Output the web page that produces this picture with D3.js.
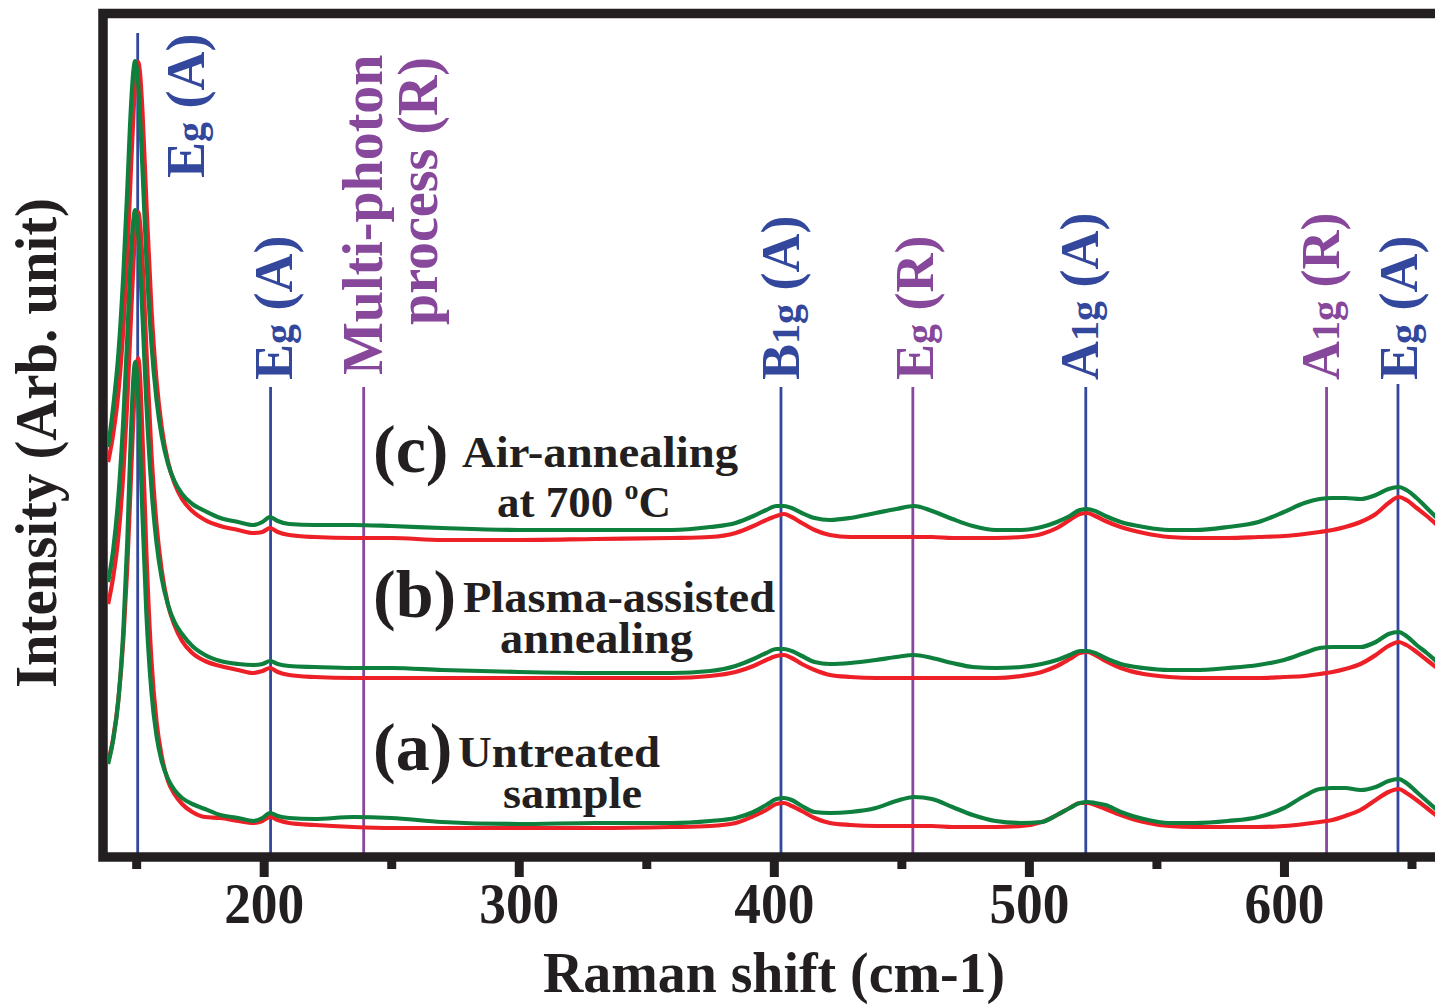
<!DOCTYPE html>
<html>
<head>
<meta charset="utf-8">
<script src="https://cdn.jsdelivr.net/npm/d3@7"></script>
<style>
  body { margin: 0; background: #fff; }
  svg { display: block; font-family: "Liberation Serif", "Times New Roman", serif; font-weight: bold; }
</style>
</head>
<body>
<div id="chart"></div>
<script>
// Raman shift grid (cm-1), shared by every spectrum
var shift = [139,141,143,145,146.5,148,149,149.6,150.2,150.8,151.5,152.5,154,156,158,160,162.5,165,168,172,
  177,183,190,196,199.5,202.5,205.5,210,220,235,250,270,300,330,360,375,385,392,397,401,
  404,407,411,416,422,430,440,448,455,462,470,478,487,497,505,511,516,520,523,526,
  530,536,545,555,565,578,590,600,608,614,619,624,630,636,641,645,648,652,656,660];

// intensities (arb. unit, already stacked)
var aRed = [95,119,157,219,289,382,444,475,493,499,481,419,305,196,135,101,76,63,53,45,
  40,39,36,34,36,40,37,34,32,30,29,29,29,29,30,31,34,41,47,53,
  54,51,46,39,34,32,31,31,31,31,30,30,30,31,35,42,49,54,54,52,
  48,42,35,31,30,30,30,31,33,35,37,41,47,57,65,68,64,57,49,41];
var aGreen = [93,117,156,228,314,427,482,495,486,459,413,340,244,165,121,96,78,67,59,53,
  48,42,39,36,39,44,41,39,38,40,39,35,33,34,34,36,39,45,52,58,
  59,57,51,45,44,45,49,56,60,58,50,42,36,34,35,42,49,54,55,54,
  52,45,38,34,34,36,40,49,61,68,69,69,67,70,76,78,74,65,56,47];
var bRed = [253,280,320,385,455,542,597,624,640,645,634,595,508,403,332,287,252,232,216,204,
  196,191,187,184,186,189,185,182,180,179,179,179,179,179,179,181,185,191,197,201,
  202,199,193,187,182,180,179,179,179,179,179,179,179,181,185,191,198,204,205,202,
  196,189,183,180,179,179,179,180,181,183,185,188,193,202,211,215,212,205,197,189];
var bGreen = [275,307,359,439,519,604,639,647,642,625,594,540,454,369,314,279,252,235,223,211,
  202,196,193,192,193,196,193,191,190,189,189,187,185,184,184,186,191,198,204,208,
  208,206,201,195,193,194,197,200,202,199,194,190,189,190,193,197,202,206,206,204,
  199,193,189,187,187,189,192,197,204,209,210,210,210,215,223,225,221,212,204,195];
var cRed = [395,423,464,530,601,691,746,774,790,795,784,744,655,548,476,430,395,374,358,346,
  337,331,327,324,325,329,325,322,320,319,319,317,317,318,319,320,324,331,337,341,
  343,340,334,327,322,320,320,320,320,320,319,319,319,320,323,329,337,343,344,341,
  336,330,324,320,319,319,320,321,323,325,327,330,335,343,354,360,357,349,341,332];
var cGreen = [410,450,502,584,666,752,788,796,790,774,742,687,599,513,457,421,393,376,363,353,
  346,339,335,332,335,340,336,333,332,332,331,329,327,327,327,330,334,341,347,351,
  351,349,344,339,337,339,344,348,351,346,338,331,327,327,330,335,341,347,348,346,
  341,335,330,327,327,330,335,345,354,358,359,359,358,362,368,370,367,359,349,339];

var majorTicks = [200, 300, 400, 500, 600];
var minorTicks = [150, 250, 350, 450, 550, 650];

// phonon modes (A = anatase, R = rutile)
var modeShift = [150.6, 202.7, 402.8, 454.5, 522.3, 616.7, 644.7];
var modeSymbol = ['E', 'E', 'B', 'E', 'A', 'A', 'E'];
var modeSub = ['g', 'g', '1g', 'g', '1g', '1g', 'g'];
var modePhase = ['A', 'A', 'A', 'R', 'A', 'R', 'A'];
var multiShift = 239.2;
var multiLines = ['Multi-photon', 'process (R)'];

var sampleTags = ['(a)', '(b)', '(c)'];
var sampleNames = [['Untreated', 'sample'], ['Plasma-assisted', 'annealing'], ['Air-annealing', 'at 700 \u00b0C']];

var width = 1435, height = 1006;
var ink = '#231f20';
var phaseColor = { A: '#33489c', R: '#87489c' };
var redColor = '#ee2027', greenColor = '#0e7f3d';

var svg = d3.select('#chart').append('svg')
  .attr('width', width)
  .attr('height', height);

var x = d3.scaleLinear().domain([137, 660]).range([103, 1437]);
var y = d3.scaleLinear().domain([0, 843]).range([857, 14]);

svg.append('clipPath').attr('id', 'plot-clip')
  .append('rect').attr('x', 108).attr('y', 18).attr('width', 1340).attr('height', 834);

// mode marker lines
var lineTop = [33, 387, 387, 387, 387, 387, 384];
svg.selectAll('line.mode')
  .data(modeShift)
  .enter()
  .append('line')
  .attr('class', 'mode')
  .attr('x1', function(d){ return x(d); })
  .attr('x2', function(d){ return x(d); })
  .attr('y1', function(d, i){ return lineTop[i]; })
  .attr('y2', y(0))
  .attr('stroke', function(d, i){ return phaseColor[modePhase[i]]; })
  .attr('stroke-width', 2.8);

svg.append('line')
  .attr('x1', x(multiShift)).attr('x2', x(multiShift))
  .attr('y1', 387).attr('y2', y(0))
  .attr('stroke', phaseColor.R)
  .attr('stroke-width', 2.8);

// spectra
var line = d3.line()
  .x(function(d){ return x(d[0]); })
  .y(function(d){ return y(d[1]); })
  .curve(d3.curveMonotoneX);

var spectra = [
  { values: aRed, color: redColor }, { values: bRed, color: redColor }, { values: cRed, color: redColor },
  { values: aGreen, color: greenColor }, { values: bGreen, color: greenColor }, { values: cGreen, color: greenColor }
];

svg.append('g').attr('clip-path', 'url(#plot-clip)')
  .selectAll('path')
  .data(spectra)
  .enter()
  .append('path')
  .attr('d', function(s){ return line(shift.map(function(v, i){ return [v, s.values[i]]; })); })
  .attr('fill', 'none')
  .attr('stroke', function(s){ return s.color; })
  .attr('stroke-width', 4.2)
  .attr('stroke-linejoin', 'round');

// mode labels
var labelNudge = [66, 21, 18, 20, 12, 12, 19];
var labelStart = [178, 380, 380, 380, 380, 380, 380];
var labels = svg.selectAll('text.mode')
  .data(modeShift)
  .enter()
  .append('text')
  .attr('class', 'mode')
  .attr('transform', function(d, i){
    return 'translate(' + (x(d) + labelNudge[i]) + ',' + labelStart[i] + ') rotate(-90)';
  })
  .attr('fill', function(d, i){ return phaseColor[modePhase[i]]; })
  .attr('font-size', 54);
labels.append('tspan').text(function(d, i){ return modeSymbol[i]; });
labels.append('tspan').attr('font-size', 40).text(function(d, i){ return modeSub[i]; });
labels.append('tspan').text(function(d, i){ return ' (' + modePhase[i] + ')'; });

var multiOffset = [18, 73], multiStart = [375, 325];
svg.selectAll('text.multi')
  .data(multiLines)
  .enter()
  .append('text')
  .attr('class', 'multi')
  .attr('transform', function(d, i){
    return 'translate(' + (x(multiShift) + multiOffset[i]) + ',' + multiStart[i] + ') rotate(-90)';
  })
  .attr('fill', phaseColor.R)
  .attr('font-size', 56)
  .text(function(d){ return d; });

// sample annotations
var tagBase = [770, 617, 472];
svg.selectAll('text.tag')
  .data(sampleTags)
  .enter()
  .append('text')
  .attr('class', 'tag')
  .attr('x', 373)
  .attr('y', function(d, i){ return tagBase[i]; })
  .attr('font-size', 68)
  .attr('fill', ink)
  .text(function(d){ return d; });

var namePos = [
  [[458, 767, 202], [503, 808, 139]],
  [[463, 612, 312], [500, 653, 193]],
  [[462, 467, 276], [497, 517, 180]]
];
sampleNames.forEach(function(pair, i){
  pair.forEach(function(txt, j){
    var p = namePos[i][j];
    var t = svg.append('text')
      .attr('x', p[0]).attr('y', p[1])
      .attr('font-size', 45)
      .attr('fill', ink);
    var parts = txt.split('\u00b0');
    if (parts.length > 1) {
      t.append('tspan').text(parts[0]);
      t.append('tspan').attr('font-size', 28).attr('dy', -18).text('o');
      t.append('tspan').attr('dy', 18).text(parts[1]);
    } else {
      t.text(txt).attr('textLength', p[2]).attr('lengthAdjust', 'spacingAndGlyphs');
    }
  });
});

// axis ticks
var gMinor = svg.append('g').attr('transform', 'translate(0,' + y(0) + ')')
  .call(d3.axisBottom(x).tickValues(minorTicks).tickSize(12).tickFormat(''));
var gMajor = svg.append('g').attr('transform', 'translate(0,' + y(0) + ')')
  .call(d3.axisBottom(x).tickValues(majorTicks).tickSize(20).tickFormat(d3.format('d')));
[gMinor, gMajor].forEach(function(g){
  g.select('.domain').remove();
  g.attr('font-family', null).attr('font-size', null);
  g.selectAll('.tick line').attr('stroke', ink).attr('stroke-width', 9);
});
gMajor.selectAll('.tick text')
  .attr('y', 66)
  .attr('dy', null)
  .attr('fill', ink)
  .attr('font-size', 58)
  .attr('textLength', 80)
  .attr('lengthAdjust', 'spacingAndGlyphs');

// frame (right side runs past the picture edge)
svg.append('rect')
  .attr('x', 103).attr('y', 13.5)
  .attr('width', 1360).attr('height', y(0) - 13.5)
  .attr('fill', 'none')
  .attr('stroke', ink)
  .attr('stroke-width', 9.5);

// axis titles
svg.append('text')
  .attr('x', 774).attr('y', 992)
  .attr('text-anchor', 'middle')
  .attr('font-size', 56)
  .attr('fill', ink)
  .attr('textLength', 462)
  .attr('lengthAdjust', 'spacingAndGlyphs')
  .text('Raman shift (cm-1)');

svg.append('text')
  .attr('transform', 'translate(56,443) rotate(-90)')
  .attr('text-anchor', 'middle')
  .attr('font-size', 60)
  .attr('fill', ink)
  .attr('textLength', 490)
  .attr('lengthAdjust', 'spacingAndGlyphs')
  .text('Intensity (Arb. unit)');
</script>
</body>
</html>
